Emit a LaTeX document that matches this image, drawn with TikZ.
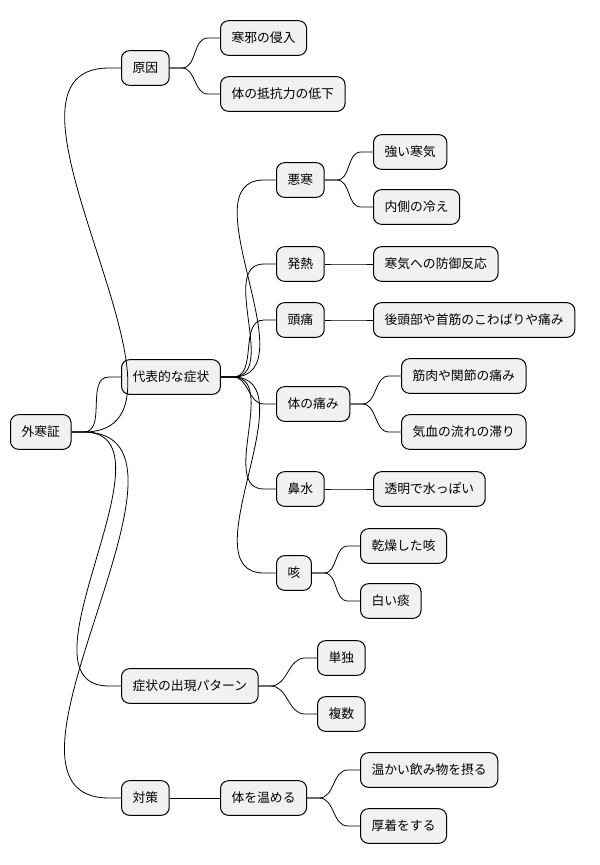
\documentclass[tikz,border=0pt]{standalone}
\usepackage{fontspec}
\setmainfont{Noto Sans CJK JP}
\usetikzlibrary{calc}
\begin{document}
\begin{tikzpicture}[x=0.75pt,y=-0.75pt,
  box/.style={draw=black,line width=0.75pt,fill={rgb,255:red,241;green,241;blue,241},rounded corners=6pt,
    anchor=west,minimum height=26pt,inner xsep=8.3pt,font=\fontsize{9.6pt}{11pt}\selectfont},
  ln/.style={line width=0.6pt,black}]
\useasboundingbox (0,0) rectangle (600,865);
\node[box] (root) at (10,432) {外寒証};
\node[box] (a) at (121,68) {原因};
\node[box] (a1) at (220,38) {寒邪の侵入};
\node[box] (a2) at (220,94) {体の抵抗力の低下};
\node[box] (b) at (121,377) {代表的な症状};
\node[box] (b1) at (276,180) {悪寒};
\node[box] (b11) at (373,152) {強い寒気};
\node[box] (b12) at (373,207) {内側の冷え};
\node[box] (b2) at (276,264) {発熱};
\node[box] (b21) at (373,264) {寒気への防御反応};
\node[box] (b3) at (276,320) {頭痛};
\node[box] (b31) at (373,320) {後頭部や首筋のこわばりや痛み};
\node[box] (b4) at (276,404) {体の痛み};
\node[box] (b41) at (401,376) {筋肉や関節の痛み};
\node[box] (b42) at (401,432) {気血の流れの滞り};
\node[box] (b5) at (276,489) {鼻水};
\node[box] (b51) at (373,489) {透明で水っぽい};
\node[box] (b6) at (276,573) {咳};
\node[box] (b61) at (360,546) {乾燥した咳};
\node[box] (b62) at (360,601) {白い痰};
\node[box] (c) at (121,686) {症状の出現パターン};
\node[box] (c1) at (317,658) {単独};
\node[box] (c2) at (317,714) {複数};
\node[box] (d) at (121,798) {対策};
\node[box] (d1) at (220,798) {体を温める};
\node[box] (d11) at (360,770) {温かい飲み物を摂る};
\node[box] (d12) at (360,826) {厚着をする};
\foreach \p/\c in {root/a,root/b,root/c,root/d,a/a1,a/a2,b/b1,b/b2,b/b3,b/b4,b/b5,b/b6,
  b1/b11,b1/b12,b2/b21,b3/b31,b4/b41,b4/b42,b5/b51,b6/b61,b6/b62,c/c1,c/c2,d/d1,d1/d11,d1/d12}
  \draw[ln] (\p.east) -- ++(12,0) to[out=0,in=180] ($(\c.west)+(-12,0)$) -- (\c.west);
\end{tikzpicture}
\end{document}
